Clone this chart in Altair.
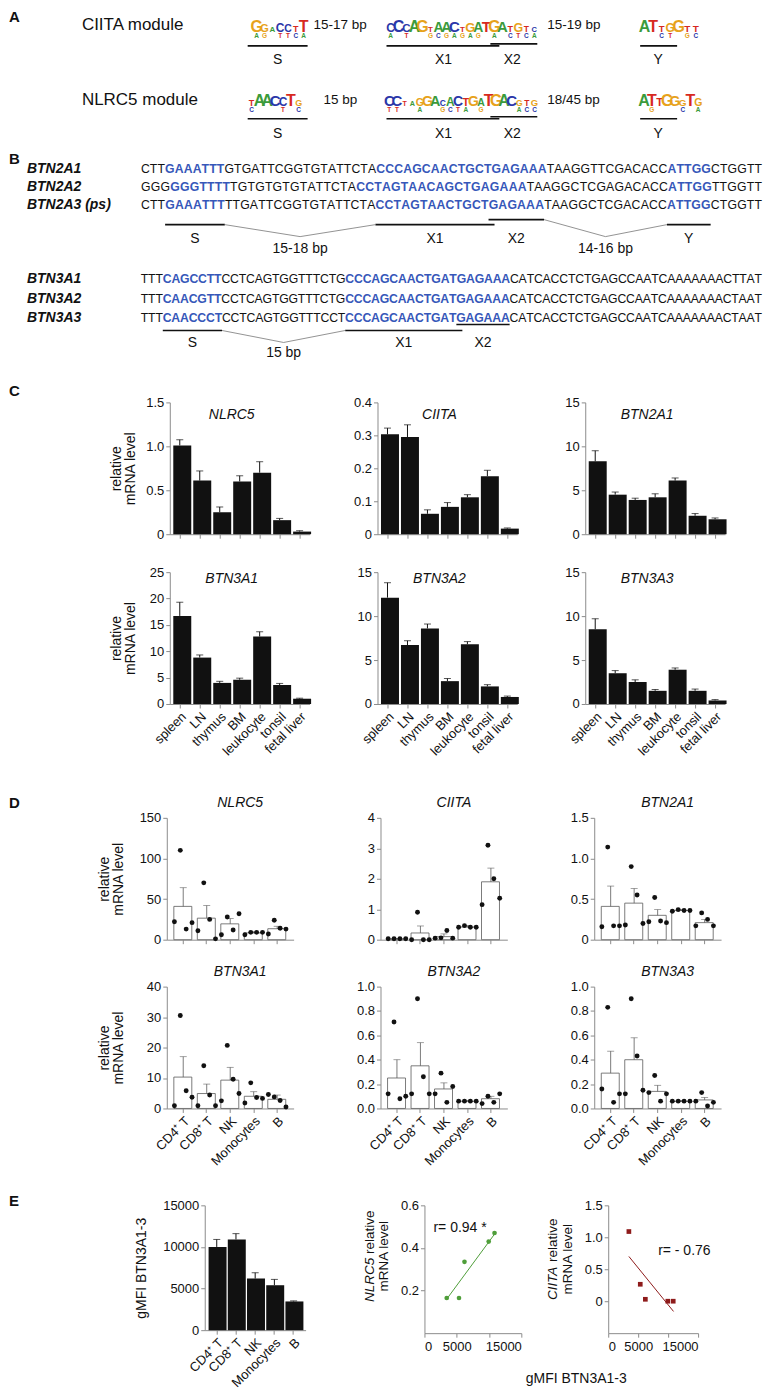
import altair as alt
import pandas as pd

FONT = "Liberation Sans"
INK = "#111111"
GREY = "#8c8c8c"
EDGE = "#5a5a5a"
SEQ_BLUE = "#3657b9"
NT_COLOR = {"A": "#3b9b3b", "C": "#2b37a9", "G": "#e7a21b", "T": "#d7291f"}
GREEN = "#4f9e3a"
DARKRED = "#8e1b1b"

# ======================= DATA =======================
# ---- Panel A: motif logos (main letter, relative height, small letter below) ----
MODULE_NAMES = ["CIITA module", "NLRC5 module"]
CIITA_S_MAIN, CIITA_S_SUB = "GGACCTT", "AG.TTCA"
CIITA_S_H = [1.0, 0.5, 0.2, 0.6, 0.45, 0.3, 1.0]
CIITA_X_MAIN, CIITA_X_SUB = "CCCAGTAACTGATGATGTC", "A.T..GCGAGAG.A.CTCA"
CIITA_X_H = [0.6, 1.0, 0.55, 1.0, 1.0, 0.2, 0.8, 0.85, 0.9, 0.2, 0.7, 0.8, 0.9, 1.0, 0.9, 0.3, 0.65, 0.25, 0.15]
CIITA_Y_MAIN, CIITA_Y_SUB = "ATTGGTT", "..CT.GC"
CIITA_Y_H = [1.0, 1.0, 0.35, 0.6, 1.0, 0.4, 0.4]
NLRC5_S_MAIN, NLRC5_S_SUB = "TAACCTG", "C...T.C"
NLRC5_S_H = [0.3, 1.0, 1.0, 0.9, 0.6, 1.0, 0.3]
NLRC5_X_MAIN, NLRC5_X_SUB = "CCTAGGACACTGATGACGTG", "TT..A..GCTA.G....ACC"
NLRC5_X_H = [0.9, 0.9, 0.1, 0.12, 0.45, 0.85, 0.85, 0.25, 0.6, 0.8, 0.5, 0.8, 0.45, 1.0, 1.0, 1.0, 0.9, 0.25, 0.25, 0.35]
NLRC5_Y_MAIN, NLRC5_Y_SUB = "ATTGGGTG", ".G...C.A"
NLRC5_Y_H = [1.0, 1.0, 0.5, 1.0, 0.8, 0.4, 1.0, 0.45]
CIITA_SPACERS = ["15-17 bp", "15-19 bp"]
NLRC5_SPACERS = ["15 bp", "18/45 bp"]
ELEMENTS = ["S", "X1", "X2", "Y"]

# ---- Panel B: promoter sequences (alternating plain / motif segments) ----
B2_GENES = ["BTN2A1", "BTN2A2", "BTN2A3 (ps)"]
BTN2A1_SEQ = ["CTT", "GAAATTT", "GTGATTCGGTGTATTCTA", "CCCAGCAACTGCTGAGAAA", "TAAGGTTCGACACC", "ATTGG", "CTGGTT"]
BTN2A2_SEQ = ["GGG", "GGGTTTT", "TGTGTGTGTATTCTA", "CCTAGTAACAGCTGAGAAA", "TAAGGCTCGAGACACC", "ATTGG", "TTGGTT"]
BTN2A3_SEQ = ["CTT", "GAAATTT", "TTGATTCGGTGTATTCTA", "CCTAGTAACTGCTGAGAAA", "TAAGGCTCGACACC", "ATTGG", "CTGGTT"]
B2_SPACERS = ["15-18 bp", "14-16 bp"]
B3_GENES = ["BTN3A1", "BTN3A2", "BTN3A3"]
BTN3A1_SEQ = ["TTT", "CAGCCTT", "CCTCAGTGGTTTCTG", "CCCAGCAACTGATGAGAAA", "CATCACCTCTGAGCCAATCAAAAAAACTTAT"]
BTN3A2_SEQ = ["TTT", "CAACGTT", "CCTCAGTGGTTTCTG", "CCCAGCAACTGATGAGAAA", "CATCACCTCTGAGCCAATCAAAAAAACTAAT"]
BTN3A3_SEQ = ["TTT", "CAACCCT", "CCTCAGTGGTTTCCT", "CCCAGCAACTGATGAGAAA", "CATCACCTCTGAGCCAATCAAAAAAACTAAT"]
B3_SPACERS = ["15 bp"]

# ---- Panel C: tissue expression (mean, mean+SEM) ----
TISSUES = ["spleen", "LN", "thymus", "BM", "leukocyte", "tonsil", "fetal liver"]
C_NLRC5 = [1.01, 0.61, 0.25, 0.60, 0.70, 0.16, 0.03]
C_NLRC5_UP = [1.075, 0.72, 0.31, 0.665, 0.825, 0.18, 0.04]
C_CIITA = [0.303, 0.295, 0.062, 0.083, 0.112, 0.176, 0.017]
C_CIITA_UP = [0.322, 0.332, 0.074, 0.096, 0.120, 0.194, 0.019]
C_BTN2A1 = [8.3, 4.5, 3.9, 4.2, 6.1, 2.1, 1.7]
C_BTN2A1_UP = [9.5, 4.8, 4.1, 4.6, 6.4, 2.35, 1.85]
C_BTN3A1 = [16.7, 8.8, 4.0, 4.6, 12.8, 3.6, 1.0]
C_BTN3A1_UP = [19.3, 9.3, 4.3, 4.9, 13.7, 3.9, 1.1]
C_BTN3A2 = [12.1, 6.7, 8.6, 2.6, 6.8, 2.0, 0.8]
C_BTN3A2_UP = [13.8, 7.2, 9.1, 2.9, 7.1, 2.2, 0.9]
C_BTN3A3 = [8.5, 3.5, 2.5, 1.5, 3.9, 1.5, 0.4]
C_BTN3A3_UP = [9.7, 3.8, 2.75, 1.65, 4.1, 1.7, 0.5]

# ---- Panel D: blood cell subsets (mean, mean+SEM, donors) ----
CELLS = ["CD4\u207a T", "CD8\u207a T", "NK", "Monocytes", "B"]
D_NLRC5 = [41, 26.5, 19.5, 8.3, 13.5]
D_NLRC5_UP = [64, 42, 26, 9.8, 16.5]
D_NLRC5_PTS = [[22, 110, 13, 21], [11, 70, 25, 1], [6, 28, 12, 32], [6, 9, 9, 9], [7, 24, 14, 13]]
D_CIITA = [0.03, 0.22, 0.10, 0.42, 1.9]
D_CIITA_UP = [0.04, 0.45, 0.19, 0.46, 2.35]
D_CIITA_PTS = [[0.03, 0.03, 0.03, 0.03], [0.0, 0.9, 0.0, 0.0], [0.05, 0.06, 0.3, 0.05], [0.41, 0.46, 0.41, 0.41], [1.15, 3.1, 2.0, 1.36]]
D_BTN2A1 = [0.41, 0.45, 0.30, 0.36, 0.21]
D_BTN2A1_UP = [0.66, 0.63, 0.37, 0.37, 0.25]
D_BTN2A1_PTS = [[0.16, 1.14, 0.17, 0.17], [0.18, 0.9, 0.55, 0.2], [0.22, 0.52, 0.23, 0.21], [0.35, 0.37, 0.36, 0.36], [0.17, 0.33, 0.25, 0.17]]
D_BTN3A1 = [10.3, 4.9, 9.3, 4.0, 3.0]
D_BTN3A1_UP = [17, 8, 13.5, 5.5, 4.4]
D_BTN3A1_PTS = [[0.9, 30.5, 5.8, 3.7], [0.9, 14, 4.4, 0.9], [2.5, 20.7, 9.6, 4.9], [1.8, 8.4, 3.6, 3.3], [4.6, 3.8, 2.6, 0.5]]
D_BTN3A2 = [0.25, 0.35, 0.16, 0.06, 0.08]
D_BTN3A2_UP = [0.40, 0.54, 0.21, 0.065, 0.10]
D_BTN3A2_PTS = [[0.12, 0.71, 0.08, 0.10], [0.12, 0.9, 0.26, 0.12], [0.12, 0.29, 0.05, 0.18], [0.06, 0.06, 0.06, 0.06], [0.04, 0.10, 0.05, 0.12]]
D_BTN3A3 = [0.29, 0.40, 0.14, 0.06, 0.07]
D_BTN3A3_UP = [0.47, 0.58, 0.19, 0.065, 0.09]
D_BTN3A3_PTS = [[0.16, 0.83, 0.05, 0.12], [0.12, 0.9, 0.43, 0.15], [0.13, 0.27, 0.06, 0.12], [0.06, 0.06, 0.06, 0.06], [0.06, 0.13, 0.02, 0.05]]

# ---- Panel E ----
E_GMFI = [10000, 10900, 6200, 5400, 3450]
E_GMFI_UP = [10900, 11600, 6900, 6100, 3520]
SC_GMFI = [3450, 5350, 6200, 9950, 10850]
SC_NLRC5 = [0.165, 0.165, 0.335, 0.43, 0.47]
SC_CIITA = [1.09, 0.265, 0.03, 0.0, 0.0]
FIT_NLRC5_X = [3450, 11100]
FIT_NLRC5_Y = [0.16, 0.475]
FIT_CIITA_X = [3450, 10900]
FIT_CIITA_Y = [0.70, -0.16]
R_NLRC5 = "r= 0.94 *"
R_CIITA = "r= - 0.76"

# ======================= helpers =======================
W_EM = {"A": 0.667, "C": 0.722, "G": 0.778, "T": 0.611}
WB_EM = {"A": 0.722, "C": 0.722, "G": 0.778, "T": 0.611}
TXT_EM = {"N": 0.722, "L": 0.556, "R": 0.722, "C": 0.722, "5": 0.556, "I": 0.278, "T": 0.611,
          "A": 0.667, "r": 0.333, "e": 0.556, "l": 0.222, "a": 0.556, "t": 0.278, "i": 0.222, "v": 0.5}


def em(s, tbl=TXT_EM):
    return sum(tbl[c] for c in s)


W_AB, H_AB = 755, 367
XS = alt.Scale(domain=[0, W_AB], nice=False, zero=False)
YS = alt.Scale(domain=[0, H_AB], nice=False, zero=False, reverse=True)


def cx(f="x"):
    return alt.X(f + ":Q", scale=XS, axis=None)


def cy(f="y"):
    return alt.Y(f + ":Q", scale=YS, axis=None)


def text_layer(rows, sized=False, colored=False, **mk):
    df = pd.DataFrame(rows)
    enc = dict(x=cx(), y=cy(), text="text:N")
    if sized:
        enc["size"] = alt.Size("size:Q", scale=None, legend=None)
    if colored:
        enc["color"] = alt.Color("color:N", scale=None, legend=None)
    return alt.Chart(df).mark_text(**mk).encode(**enc)


# ---------------- Panel A + B canvas ----------------
left_txt, center_txt, letter_txt, logo_txt, under, vlines = [], [], [], [], [], []
letter_txt += [dict(x=0, y=7, text="A"), dict(x=0, y=149, text="B")]
left_big = [dict(x=73, y=15, text=MODULE_NAMES[0]), dict(x=73, y=90, text=MODULE_NAMES[1])]
left_txt += [dict(x=305, y=15, text=CIITA_SPACERS[0]), dict(x=539, y=15, text=CIITA_SPACERS[1]),
             dict(x=315, y=90, text=NLRC5_SPACERS[0]), dict(x=539, y=90, text=NLRC5_SPACERS[1])]


def logo(main, sub, hs, x0, x1, ybot):
    step = (x1 - x0) / len(main)
    for i, (m, s, h) in enumerate(zip(main, sub, hs)):
        xc = x0 + step * (i + 0.5)
        logo_txt.append(dict(x=xc, y=ybot - 6, text=m, size=6 + 10 * h, color=NT_COLOR[m]))
        if s != ".":
            logo_txt.append(dict(x=xc, y=ybot, text=s, size=6.5, color=NT_COLOR[s]))


logo(CIITA_S_MAIN, CIITA_S_SUB, CIITA_S_H, 244, 299, 28)
logo(CIITA_X_MAIN, CIITA_X_SUB, CIITA_X_H, 378, 530, 28)
logo(CIITA_Y_MAIN, CIITA_Y_SUB, CIITA_Y_H, 632, 692, 28)
logo(NLRC5_S_MAIN, NLRC5_S_SUB, NLRC5_S_H, 239, 294, 102)
logo(NLRC5_X_MAIN, NLRC5_X_SUB, NLRC5_X_H, 377, 530, 102)
logo(NLRC5_Y_MAIN, NLRC5_Y_SUB, NLRC5_Y_H, 632, 694, 102)

for yl, ylab in [(36, 50), (109, 124)]:
    under += [dict(x=239, x2=299, y=yl), dict(x=378, x2=491, y=yl),
              dict(x=482, x2=529, y=yl - 2), dict(x=632, x2=669, y=yl)]
    for lab, xl in zip(ELEMENTS, [269, 435, 504, 650]):
        center_txt.append(dict(x=xl, y=ylab, text=lab))

# sequences
SEQ_X0, SEQ_X1 = 132, 754
ALL_ROWS = [BTN2A1_SEQ, BTN2A2_SEQ, BTN2A3_SEQ, BTN3A1_SEQ, BTN3A2_SEQ, BTN3A3_SEQ]


def row_em(segs):
    return sum((WB_EM if i % 2 else W_EM)[c] for i, s in enumerate(segs) for c in s)


SEQ_FS = (SEQ_X1 - SEQ_X0) / (sum(row_em(r) for r in ALL_ROWS) / len(ALL_ROWS))
seq_plain, seq_hl, gene_txt = [], [], []


def layout_row(segs, y):
    k = (SEQ_X1 - SEQ_X0) / row_em(segs)
    pos, bounds = SEQ_X0, []
    for i, s in enumerate(segs):
        tbl = WB_EM if i % 2 else W_EM
        for c in s:
            w = tbl[c] * k
            (seq_hl if i % 2 else seq_plain).append(dict(x=pos + w / 2, y=y, text=c))
            bounds.append((pos, pos + w))
            pos += w
    return bounds


for g, segs, y in zip(B2_GENES, [BTN2A1_SEQ, BTN2A2_SEQ, BTN2A3_SEQ], [159, 177, 195]):
    gene_txt.append(dict(x=18, y=y, text=g))
    b2 = layout_row(segs, y)
for g, segs, y in zip(B3_GENES, [BTN3A1_SEQ, BTN3A2_SEQ, BTN3A3_SEQ], [269, 289, 309]):
    gene_txt.append(dict(x=18, y=y, text=g))
    b3 = layout_row(segs, y)

s_ = (b2[3][0], b2[9][1]); x1_ = (b2[28][0], b2[40][1] + 6); x2_ = (b2[41][0], b2[46][1]); y_ = (b2[61][0], b2[65][1])
under += [dict(x=s_[0], x2=s_[1], y=215), dict(x=x1_[0], x2=x1_[1], y=215),
          dict(x=x2_[0], x2=x2_[1], y=210), dict(x=y_[0], x2=y_[1], y=215)]
for lab, seg in zip(ELEMENTS, [s_, x1_, x2_, y_]):
    center_txt.append(dict(x=(seg[0] + seg[1]) / 2, y=229, text=lab))
v1 = (s_[1] + x1_[0]) / 2
v2 = (x2_[1] + y_[0]) / 2
vlines += [dict(x=s_[1], y=215, g=1, o=0), dict(x=v1, y=227, g=1, o=1), dict(x=x1_[0], y=215, g=1, o=2),
           dict(x=x2_[1], y=210, g=2, o=0), dict(x=v2, y=227, g=2, o=1), dict(x=y_[0], y=215, g=2, o=2)]
center_txt += [dict(x=v1, y=239, text=B2_SPACERS[0]), dict(x=v2, y=239, text=B2_SPACERS[1])]

s3 = (b3[3][0], b3[9][1]); x13 = (b3[25][0], b3[37][1] + 6); x23 = (b3[38][0], b3[43][1])
under += [dict(x=s3[0], x2=s3[1], y=321), dict(x=x13[0], x2=x13[1], y=321), dict(x=x23[0], x2=x23[1], y=315)]
for lab, seg in zip(ELEMENTS[:3], [s3, x13, x23]):
    center_txt.append(dict(x=(seg[0] + seg[1]) / 2, y=334, text=lab))
v3 = (s3[1] + x13[0]) / 2
vlines += [dict(x=s3[1], y=321, g=3, o=0), dict(x=v3, y=333, g=3, o=1), dict(x=x13[0], y=321, g=3, o=2)]
center_txt.append(dict(x=v3, y=344, text=B3_SPACERS[0]))

ab_layers = [
    text_layer(letter_txt, align="left", baseline="middle", fontSize=15, fontWeight="bold", color=INK),
    text_layer(left_big, align="left", baseline="middle", fontSize=17, color=INK),
    text_layer(left_txt, align="left", baseline="middle", fontSize=13.5, color=INK),
    text_layer(center_txt, align="center", baseline="middle", fontSize=14, color=INK),
    text_layer(logo_txt, sized=True, colored=True, align="center", baseline="alphabetic", fontWeight="bold"),
    text_layer(gene_txt, align="left", baseline="middle", fontSize=14, fontWeight="bold", fontStyle="italic", color=INK),
    text_layer(seq_plain, align="center", baseline="middle", fontSize=SEQ_FS, color=INK),
    text_layer(seq_hl, align="center", baseline="middle", fontSize=SEQ_FS, fontWeight="bold", color=SEQ_BLUE),
    alt.Chart(pd.DataFrame(under)).mark_rule(color=INK, strokeWidth=1.6).encode(x=cx(), x2="x2:Q", y=cy()),
    alt.Chart(pd.DataFrame(vlines)).mark_line(color="#777777", strokeWidth=0.8).encode(
        x=cx(), y=cy(), detail="g:N", order="o:Q"),
    alt.Chart(pd.DataFrame([dict(x=0, x2=8, y=H_AB - 1)])).mark_rule(color="white").encode(x=cx(), x2="x2:Q", y=cy()),
]
panel_ab = alt.layer(*ab_layers).properties(width=W_AB, height=H_AB)


# ---------------- shared chart helpers ----------------
def one(text):
    return alt.Chart(pd.DataFrame({"t": [text]}))


def label_at(text, x, y, **mk):
    return one(text).mark_text(**mk).encode(text="t:N", x=alt.value(x), y=alt.value(y))


def pad_rule(x, y):
    return one("").mark_rule(color="white", strokeWidth=1).encode(x=alt.value(x), x2=alt.value(x + 10), y=alt.value(y))


def spacer(w, h, layers):
    return alt.layer(*layers).properties(width=w, height=h)


def letter(t, y):
    return label_at(t, 0, y, fontSize=15, fontWeight="bold", align="left", baseline="middle", color=INK)


EXPR_INT = "format(datum.value, 'd')"
EXPR_DEC0 = "datum.value == 0 ? '0' : format(datum.value, '.1f')"
EXPR_DEC = "format(datum.value, '.1f')"


def yaxis(ticks, expr, extent, tpad, has_title):
    d = dict(values=ticks, labelExpr=expr, tickSize=4, labelPadding=2, labelFontSize=13,
             minExtent=extent, maxExtent=extent, domainColor=GREY, tickColor=GREY, labelColor=INK)
    if has_title:
        d.update(titleFontSize=14, titleFontWeight="normal", titleColor=INK, titlePadding=tpad, titleLineHeight=14)
    return alt.Axis(**d)


def xaxis(show_labels):
    return alt.Axis(labels=show_labels, labelAngle=-45, tickSize=4, labelPadding=2, labelFontSize=13,
                    domainColor=GREY, tickColor=GREY, labelColor=INK)


REL_TITLE = ["relative", "mRNA level"]


def bar_layers(df, xenc, ticks, expr, extent, tpad, title, bar_mark, err_color, err_w):
    ysc = alt.Scale(domain=[0, ticks[-1]], nice=False)
    ax = yaxis(ticks, expr, extent, tpad, title is not None)
    base = alt.Chart(df)
    bars = base.mark_bar(**bar_mark).encode(x=xenc, y=alt.Y("v:Q", scale=ysc, axis=ax, title=title))
    err = base.mark_rule(color=err_color, strokeWidth=err_w).encode(
        x=xenc, y=alt.Y("v:Q", scale=ysc, axis=ax, title=title), y2="up:Q")
    cap = base.mark_tick(color=err_color, size=7, thickness=err_w, orient="horizontal").encode(
        x=xenc, y=alt.Y("up:Q", scale=ysc, axis=ax, title=title))
    return [bars, err, cap], ysc, ax


# ---------------- Panel C ----------------
C_W, C_H = 140, 132


def c_chart(gene, vals, ups, ticks, expr, first_col, bottom_row):
    df = pd.DataFrame({"tissue": TISSUES, "v": vals, "up": ups})
    xenc = alt.X("tissue:N", sort=TISSUES, title=None,
                 scale=alt.Scale(paddingInner=0.35, paddingOuter=0.175), axis=xaxis(bottom_row))
    layers, _, _ = bar_layers(df, xenc, ticks, expr, 28, 4, REL_TITLE if first_col else None,
                              dict(color=INK), INK, 1)
    ttl = label_at(gene, C_W / 2 - 8, 7 if bottom_row else 13, fontSize=14, fontStyle="italic", color=INK)
    return alt.layer(*layers, ttl).properties(width=C_W, height=C_H)


c_charts = [
    spacer(93, C_H, [letter("C", -11), pad_rule(0, -24)]),
    c_chart("NLRC5", C_NLRC5, C_NLRC5_UP, [0, 0.5, 1.0, 1.5], EXPR_DEC0, True, False),
    c_chart("CIITA", C_CIITA, C_CIITA_UP, [0, 0.1, 0.2, 0.3, 0.4], EXPR_DEC0, False, False),
    c_chart("BTN2A1", C_BTN2A1, C_BTN2A1_UP, [0, 5, 10, 15], EXPR_INT, False, False),
    spacer(93, C_H, [pad_rule(0, 216)]),
    c_chart("BTN3A1", C_BTN3A1, C_BTN3A1_UP, [0, 5, 10, 15, 20, 25], EXPR_INT, True, True),
    c_chart("BTN3A2", C_BTN3A2, C_BTN3A2_UP, [0, 5, 10, 15], EXPR_INT, False, True),
    c_chart("BTN3A3", C_BTN3A3, C_BTN3A3_UP, [0, 5, 10, 15], EXPR_INT, False, True),
]
panel_c = alt.concat(*c_charts, columns=4, align="each", spacing={"row": 38, "column": 68}, bounds="flush")

# ---------------- Panel D ----------------
D_W, D_H = 127, 122


def d_chart(gene, means, ups, pts, ticks, expr, first_col, bottom_row):
    df = pd.DataFrame({"cell": CELLS, "v": means, "up": ups})
    dfp = pd.DataFrame([{"cell": c, "rep": r, "v": p} for c, ps in zip(CELLS, pts) for r, p in enumerate(ps)])
    xenc = alt.X("cell:N", sort=CELLS, title=None,
                 scale=alt.Scale(paddingInner=0.2, paddingOuter=0.3), axis=xaxis(bottom_row))
    title = REL_TITLE if first_col else None
    layers, ysc, ax = bar_layers(df, xenc, ticks, expr, 28, 13, title,
                                 dict(fill="white", stroke=EDGE, strokeWidth=0.8), EDGE, 0.8)
    dots = alt.Chart(dfp).mark_circle(size=24, color=INK, opacity=1).encode(
        x=xenc, xOffset=alt.XOffset("rep:N", scale=alt.Scale(paddingOuter=0.1)),
        y=alt.Y("v:Q", scale=ysc, axis=ax, title=title))
    ttl = label_at(gene, D_W / 2 + 10, -15, fontSize=14, fontStyle="italic", color=INK)
    return alt.layer(*layers, dots, ttl).properties(width=D_W, height=D_H)


d_charts = [
    spacer(71, D_H, [letter("D", -15), pad_rule(0, -28)]),
    d_chart("NLRC5", D_NLRC5, D_NLRC5_UP, D_NLRC5_PTS, [0, 50, 100, 150], EXPR_INT, True, False),
    d_chart("CIITA", D_CIITA, D_CIITA_UP, D_CIITA_PTS, [0, 1, 2, 3, 4], EXPR_INT, False, False),
    d_chart("BTN2A1", D_BTN2A1, D_BTN2A1_UP, D_BTN2A1_PTS, [0, 0.5, 1.0, 1.5], EXPR_DEC0, False, False),
    spacer(71, D_H, [pad_rule(0, 203)]),
    d_chart("BTN3A1", D_BTN3A1, D_BTN3A1_UP, D_BTN3A1_PTS, [0, 10, 20, 30, 40], EXPR_INT, True, True),
    d_chart("BTN3A2", D_BTN3A2, D_BTN3A2_UP, D_BTN3A2_PTS, [0, 0.2, 0.4, 0.6, 0.8, 1.0], EXPR_DEC, False, True),
    d_chart("BTN3A3", D_BTN3A3, D_BTN3A3_UP, D_BTN3A3_PTS, [0, 0.2, 0.4, 0.6, 0.8, 1.0], EXPR_DEC, False, True),
]
panel_d = alt.concat(*d_charts, columns=4, align="each", spacing={"row": 47, "column": 87}, bounds="flush")

# ---------------- Panel E ----------------
E_H = 128
df_e = pd.DataFrame({"cell": CELLS, "v": E_GMFI, "up": E_GMFI_UP})
xe = alt.X("cell:N", sort=CELLS, title=None, scale=alt.Scale(paddingInner=0.15, paddingOuter=0.2), axis=xaxis(True))
e_layers, _, _ = bar_layers(df_e, xe, [0, 5000, 10000, 15000], EXPR_INT, 42, 14, "gMFI BTN3A1-3",
                            dict(color=INK), INK, 1)
e_bar = alt.layer(*e_layers).properties(width=101, height=E_H - 3)


def sc_title(gene, yc):
    fs = 13.5
    wg, wsp, wr = em(gene) * fs, 0.278 * fs, em("relative") * fs
    y0 = yc + (wg + wsp + wr) / 2
    return [
        label_at(gene, -55, y0, angle=270, align="left", baseline="middle", fontSize=fs, fontStyle="italic", color=INK),
        label_at("relative", -55, y0 - wg - wsp, angle=270, align="left", baseline="middle", fontSize=fs, color=INK),
        label_at("mRNA level", -40, yc, angle=270, align="center", baseline="middle", fontSize=fs, color=INK),
    ]


def scatter(xs, ys, fx, fy, ydom, yticks, yexpr, color, shape, w, extra):
    df = pd.DataFrame({"g": xs, "r": ys})
    dfl = pd.DataFrame({"g": fx, "r": fy})
    xenc = alt.X("g:Q", title=None, scale=alt.Scale(domain=[0, 15000], nice=False, zero=False),
                 axis=alt.Axis(values=[0, 5000, 10000, 15000], labelExpr="datum.value == 10000 ? '' : format(datum.value, 'd')",
                               tickSize=4, labelPadding=3, labelFontSize=13, domainColor=GREY, tickColor=GREY, labelColor=INK))
    yenc = alt.Y("r:Q", title=None, scale=alt.Scale(domain=ydom, nice=False, zero=False),
                 axis=alt.Axis(values=yticks, labelExpr=yexpr, tickSize=4, labelPadding=2, labelFontSize=13,
                               domainColor=GREY, tickColor=GREY, labelColor=INK))
    line = alt.Chart(dfl).mark_line(color=color, strokeWidth=1).encode(x=xenc, y=yenc)
    pts = alt.Chart(df).mark_point(shape=shape, filled=True, size=22, color=color, opacity=1).encode(x=xenc, y=yenc)
    return alt.layer(line, pts, *extra).properties(width=w, height=E_H)


sc1 = scatter(SC_GMFI, SC_NLRC5, FIT_NLRC5_X, FIT_NLRC5_Y, [0, 0.6], [0.2, 0.4, 0.6], EXPR_DEC, GREEN, "circle", 97,
              sc_title("NLRC5", 51) + [label_at(R_NLRC5, 9, 23, align="left", baseline="middle", fontSize=14, color=INK)])
sc2 = scatter(SC_GMFI, SC_CIITA, FIT_CIITA_X, FIT_CIITA_Y, [-0.5, 1.5], [0, 0.5, 1.0, 1.5], EXPR_DEC0, DARKRED, "square", 90,
              sc_title("CIITA", 54) + [label_at(R_CIITA, 50, 46, align="left", baseline="middle", fontSize=14, color=INK),
                                       label_at("gMFI BTN3A1-3", -32, 174, align="center", baseline="middle", fontSize=14, color=INK)])
sp_e = spacer(77, E_H - 3, [letter("E", -4), pad_rule(0, -14)])
panel_e = alt.hconcat(sp_e, e_bar, alt.hconcat(sc1, sc2, spacing=87, bounds="flush"), spacing=119, bounds="flush")

chart = alt.vconcat(panel_ab, panel_c, panel_d, panel_e, spacing=0, padding=0).configure(
    font=FONT).configure_view(stroke="transparent").configure_axis(
    grid=False, labelFont=FONT, titleFont=FONT)

chart.save("out.html", embed_options={"renderer": "svg", "actions": False})
